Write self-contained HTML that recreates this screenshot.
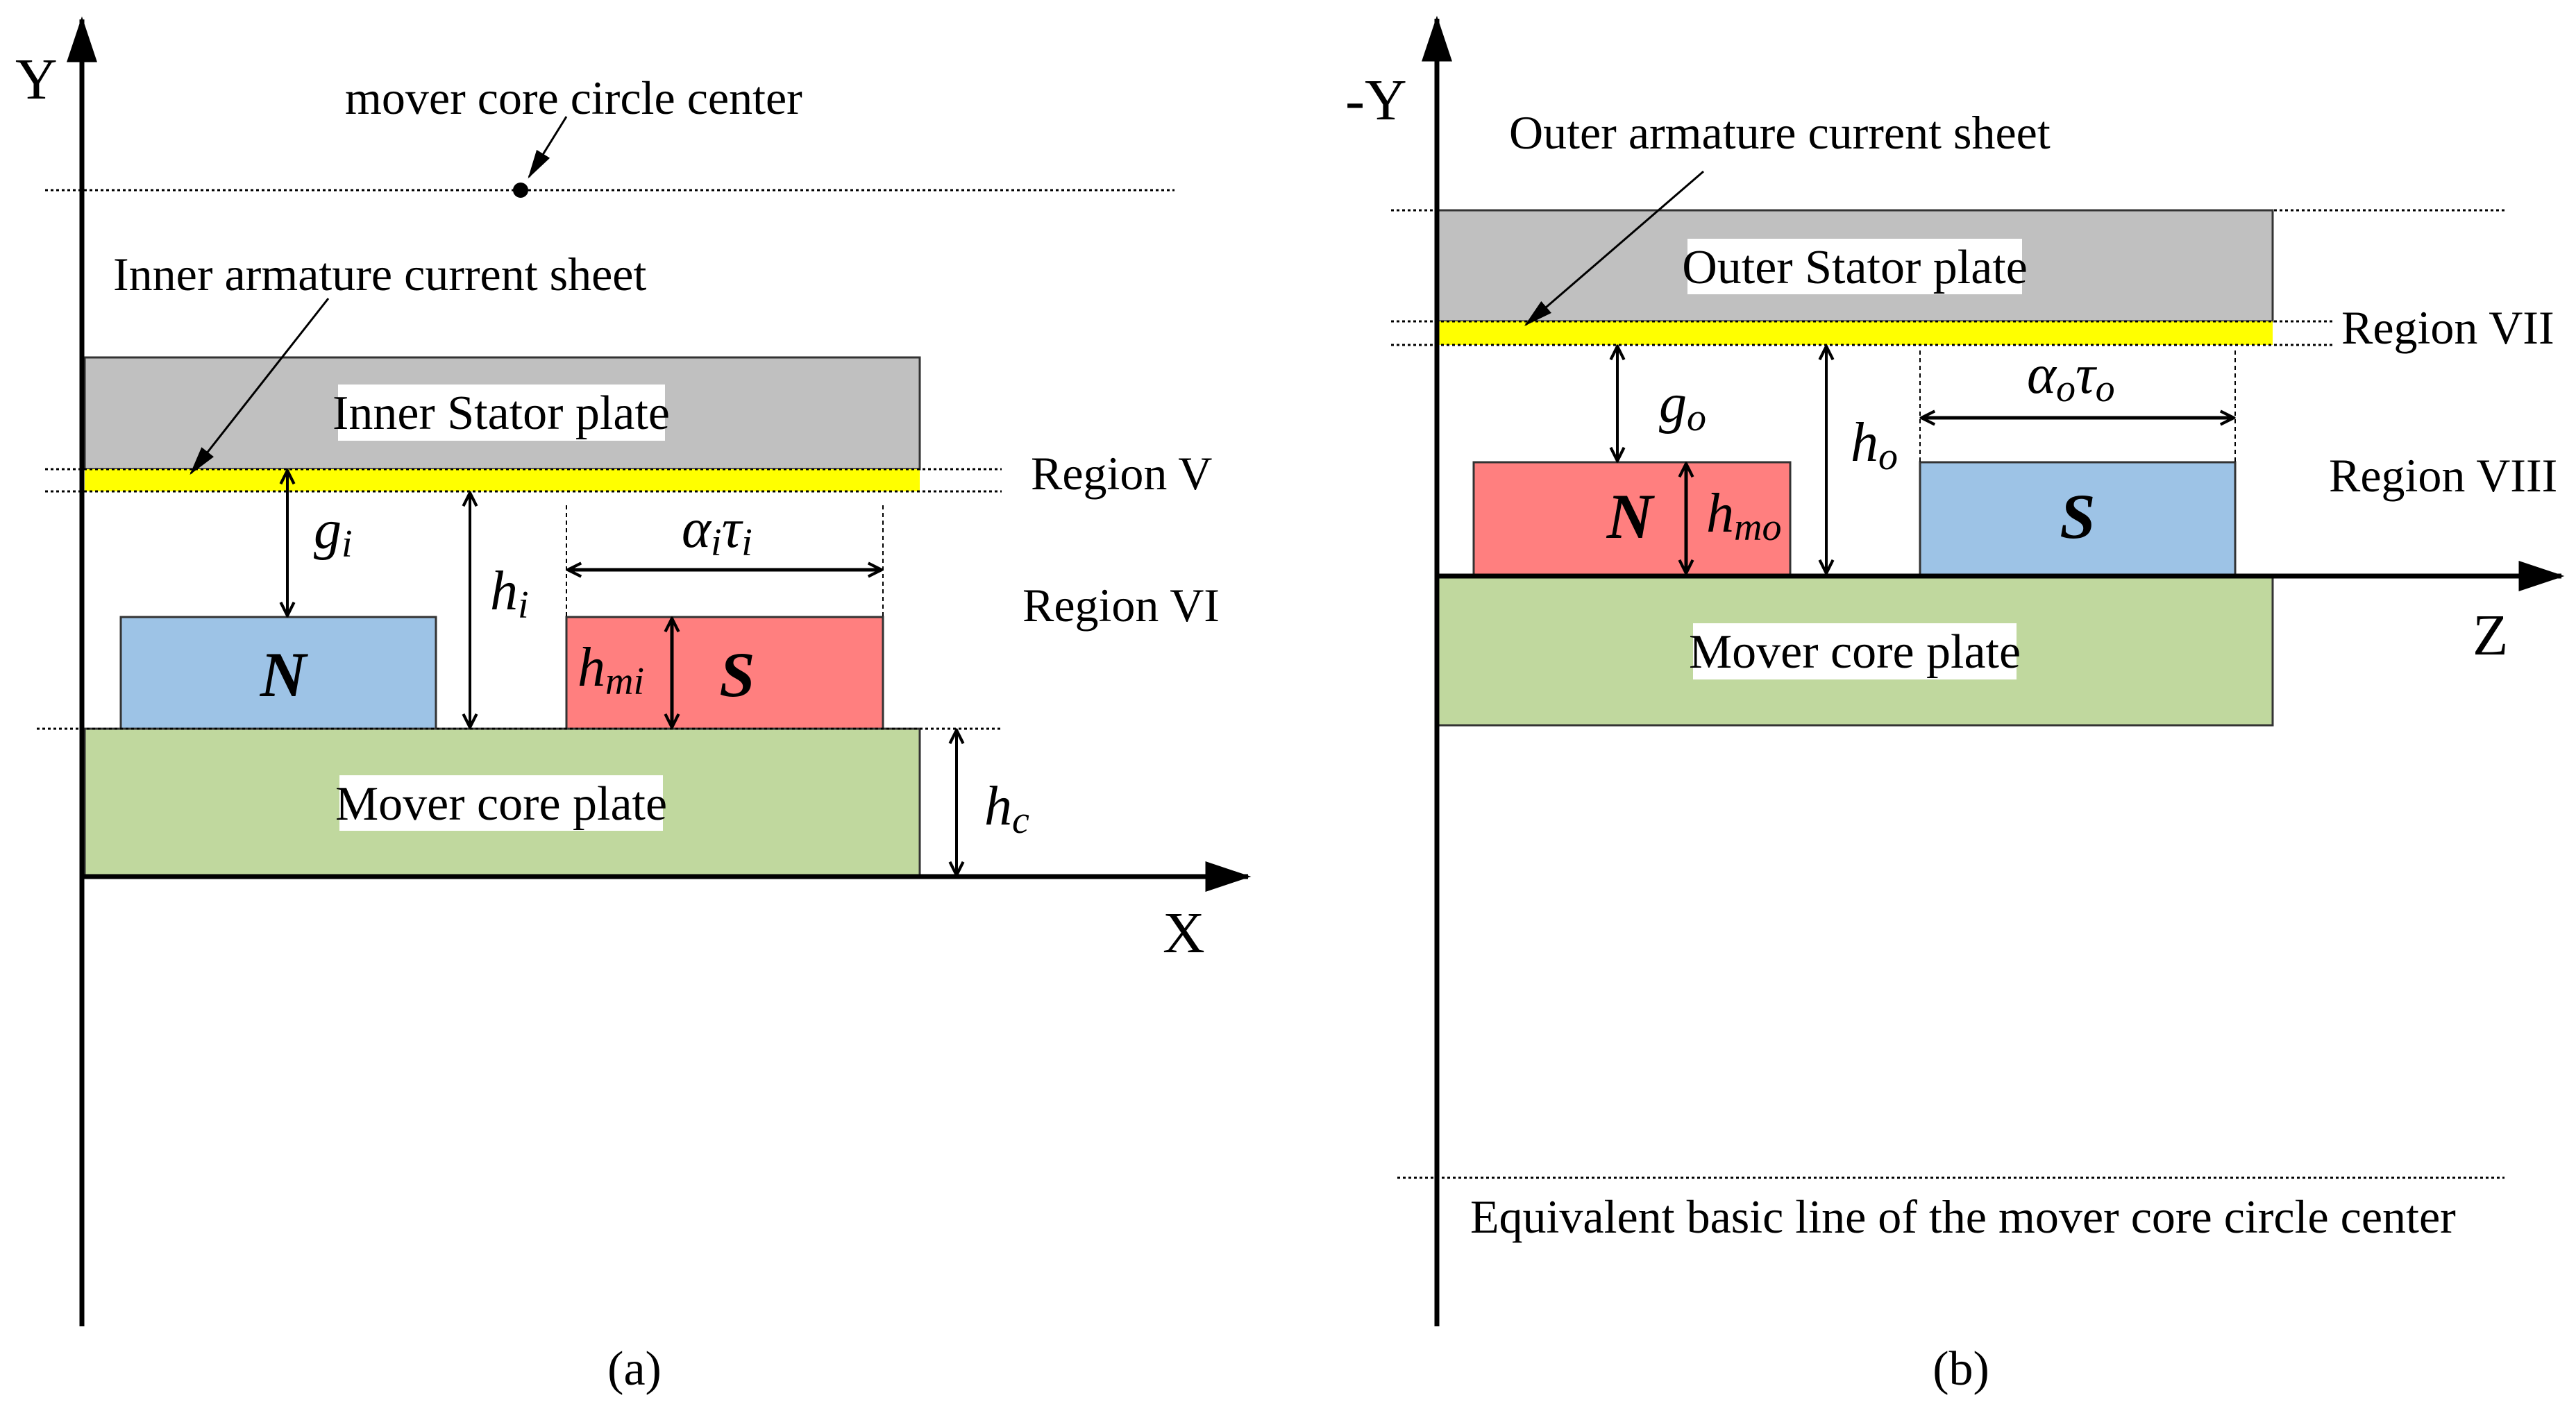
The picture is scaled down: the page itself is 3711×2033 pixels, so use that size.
<!DOCTYPE html>
<html><head><meta charset="utf-8"><style>html,body{margin:0;padding:0;background:#fff}svg{display:block}text{font-family:"Liberation Serif",serif;fill:#000}</style></head><body>
<svg width="3711" height="2033" viewBox="0 0 3711 2033" xmlns="http://www.w3.org/2000/svg">
<defs>
<marker id="oa" viewBox="0 0 20 20" refX="18" refY="10" markerWidth="24" markerHeight="24" markerUnits="userSpaceOnUse" orient="auto-start-reverse"><polyline points="2,2 18,10 2,18" fill="none" stroke="#000" stroke-width="3.5"/></marker>
<marker id="fa" viewBox="0 0 30 20" refX="28" refY="10" markerWidth="42" markerHeight="28" markerUnits="userSpaceOnUse" orient="auto"><polygon points="0,2 30,10 0,18" fill="#000"/></marker>
<marker id="ax" viewBox="0 0 30 20" refX="28" refY="10" markerWidth="66" markerHeight="44" markerUnits="userSpaceOnUse" orient="auto"><polygon points="0,0 30,10 0,20" fill="#000"/></marker>
</defs>
<g font-size="68">
<!-- LEFT PANEL -->
<line x1="65" y1="274" x2="1692" y2="274" stroke="#000" stroke-width="3" stroke-dasharray="4,4"/>
<rect x="122" y="515" width="1203" height="161" fill="#c0c0c0" stroke="#333" stroke-width="3"/>
<rect x="122" y="676" width="1203" height="32" fill="#ffff00"/>
<line x1="65" y1="676" x2="1443" y2="676" stroke="#000" stroke-width="3" stroke-dasharray="4,4"/>
<line x1="65" y1="708" x2="1443" y2="708" stroke="#000" stroke-width="3" stroke-dasharray="4,4"/>
<rect x="487" y="554" width="471" height="81" fill="#fff"/>
<text x="722" y="618" text-anchor="middle" font-size="70">Inner Stator plate</text>
<rect x="174" y="889" width="454" height="161" fill="#9dc3e6" stroke="#333" stroke-width="3"/>
<rect x="816" y="889" width="456" height="161" fill="#ff7f7f" stroke="#333" stroke-width="3"/>
<rect x="122" y="1050" width="1203" height="213" fill="#c0d89e" stroke="#333" stroke-width="3"/>
<line x1="53" y1="1050" x2="1443" y2="1050" stroke="#000" stroke-width="3" stroke-dasharray="4,4"/>
<rect x="489" y="1117" width="466" height="80" fill="#fff"/>
<text x="722" y="1181" text-anchor="middle" font-size="70">Mover core plate</text>
<line x1="118" y1="1911" x2="118" y2="28" stroke="#000" stroke-width="7" marker-end="url(#ax)"/>
<line x1="118" y1="1263" x2="1798" y2="1263" stroke="#000" stroke-width="7" marker-end="url(#ax)"/>
<text x="22" y="142" font-size="84">Y</text>
<text x="1675" y="1372" font-size="84">X</text>
<text x="497" y="164">mover core circle center</text>
<line x1="816" y1="168" x2="762" y2="255" stroke="#000" stroke-width="3" marker-end="url(#fa)"/>
<circle cx="750" cy="274" r="11" fill="#000"/>
<text x="163" y="418">Inner armature current sheet</text>
<line x1="473" y1="430" x2="275" y2="682" stroke="#000" stroke-width="3" marker-end="url(#fa)"/>
<text x="1485" y="705">Region V</text>
<text x="1473" y="895">Region VI</text>
<line x1="414" y1="678" x2="414" y2="887" stroke="#000" stroke-width="4" marker-start="url(#oa)" marker-end="url(#oa)"/>
<text x="452" y="790" font-size="80" font-style="italic">g<tspan font-size="56" dy="12">i</tspan></text>
<line x1="677" y1="710" x2="677" y2="1048" stroke="#000" stroke-width="4" marker-start="url(#oa)" marker-end="url(#oa)"/>
<text x="706" y="878" font-size="80" font-style="italic">h<tspan font-size="56" dy="12">i</tspan></text>
<line x1="816" y1="728" x2="816" y2="889" stroke="#000" stroke-width="2" stroke-dasharray="6,5"/>
<line x1="1272" y1="728" x2="1272" y2="889" stroke="#000" stroke-width="2" stroke-dasharray="6,5"/>
<line x1="818" y1="821" x2="1270" y2="821" stroke="#000" stroke-width="5" marker-start="url(#oa)" marker-end="url(#oa)"/>
<text x="982" y="788" font-size="80" font-style="italic">α<tspan font-size="56" dy="12">i</tspan><tspan dy="-12">τ</tspan><tspan font-size="56" dy="12">i</tspan></text>
<line x1="968" y1="891" x2="968" y2="1048" stroke="#000" stroke-width="5" marker-start="url(#oa)" marker-end="url(#oa)"/>
<text x="832" y="988" font-size="80" font-style="italic">h<tspan font-size="56" dy="12">mi</tspan></text>
<text x="408" y="1003" text-anchor="middle" font-size="92" font-style="italic" font-weight="bold">N</text>
<text x="1062" y="1003" text-anchor="middle" font-size="92" font-style="italic" font-weight="bold">S</text>
<line x1="1378" y1="1052" x2="1378" y2="1261" stroke="#000" stroke-width="4" marker-start="url(#oa)" marker-end="url(#oa)"/>
<text x="1418" y="1188" font-size="80" font-style="italic">h<tspan font-size="56" dy="12">c</tspan></text>
<text x="914" y="1995" text-anchor="middle" font-size="70">(a)</text>

<!-- RIGHT PANEL -->
<line x1="2004" y1="303" x2="3609" y2="303" stroke="#000" stroke-width="3" stroke-dasharray="4,4"/>
<rect x="2070" y="303" width="1204" height="160" fill="#c0c0c0" stroke="#333" stroke-width="3"/>
<rect x="2070" y="463" width="1204" height="34" fill="#ffff00"/>
<line x1="2004" y1="463" x2="3361" y2="463" stroke="#000" stroke-width="3" stroke-dasharray="4,4"/>
<line x1="2004" y1="497" x2="3361" y2="497" stroke="#000" stroke-width="3" stroke-dasharray="4,4"/>
<rect x="2431" y="344" width="482" height="80" fill="#fff"/>
<text x="2672" y="408" text-anchor="middle" font-size="70">Outer Stator plate</text>
<rect x="2123" y="666" width="456" height="164" fill="#ff7f7f" stroke="#333" stroke-width="3"/>
<rect x="2766" y="666" width="454" height="164" fill="#9dc3e6" stroke="#333" stroke-width="3"/>
<rect x="2070" y="830" width="1204" height="215" fill="#c0d89e" stroke="#333" stroke-width="3"/>
<rect x="2439" y="898" width="466" height="81" fill="#fff"/>
<text x="2672" y="962" text-anchor="middle" font-size="70">Mover core plate</text>
<line x1="2070" y1="1911" x2="2070" y2="27" stroke="#000" stroke-width="7" marker-end="url(#ax)"/>
<line x1="2070" y1="830" x2="3690" y2="830" stroke="#000" stroke-width="7" marker-end="url(#ax)"/>
<text x="1938" y="172" font-size="84">-Y</text>
<text x="3562" y="943" font-size="84">Z</text>
<text x="2174" y="214">Outer armature current sheet</text>
<line x1="2454" y1="247" x2="2198" y2="468" stroke="#000" stroke-width="3" marker-end="url(#fa)"/>
<text x="3373" y="495">Region VII</text>
<text x="3355" y="708">Region VIII</text>
<line x1="2330" y1="499" x2="2330" y2="664" stroke="#000" stroke-width="4" marker-start="url(#oa)" marker-end="url(#oa)"/>
<text x="2390" y="608" font-size="80" font-style="italic">g<tspan font-size="56" dy="12">o</tspan></text>
<line x1="2631" y1="499" x2="2631" y2="826" stroke="#000" stroke-width="4" marker-start="url(#oa)" marker-end="url(#oa)"/>
<text x="2666" y="664" font-size="80" font-style="italic">h<tspan font-size="56" dy="12">o</tspan></text>
<line x1="2766" y1="505" x2="2766" y2="666" stroke="#000" stroke-width="2" stroke-dasharray="6,5"/>
<line x1="3220" y1="505" x2="3220" y2="666" stroke="#000" stroke-width="2" stroke-dasharray="6,5"/>
<line x1="2768" y1="602" x2="3218" y2="602" stroke="#000" stroke-width="5" marker-start="url(#oa)" marker-end="url(#oa)"/>
<text x="2920" y="566" font-size="80" font-style="italic">α<tspan font-size="56" dy="12">o</tspan><tspan dy="-12">τ</tspan><tspan font-size="56" dy="12">o</tspan></text>
<line x1="2429" y1="668" x2="2429" y2="826" stroke="#000" stroke-width="5" marker-start="url(#oa)" marker-end="url(#oa)"/>
<text x="2458" y="766" font-size="80" font-style="italic">h<tspan font-size="56" dy="12">mo</tspan></text>
<text x="2348" y="775" text-anchor="middle" font-size="92" font-style="italic" font-weight="bold">N</text>
<text x="2993" y="775" text-anchor="middle" font-size="92" font-style="italic" font-weight="bold">S</text>
<line x1="2013" y1="1697" x2="3608" y2="1697" stroke="#000" stroke-width="3" stroke-dasharray="4,4"/>
<text x="2118" y="1776">Equivalent basic line of  the mover core circle center</text>
<text x="2825" y="1995" text-anchor="middle" font-size="70">(b)</text>
</g>
</svg>
</body></html>
